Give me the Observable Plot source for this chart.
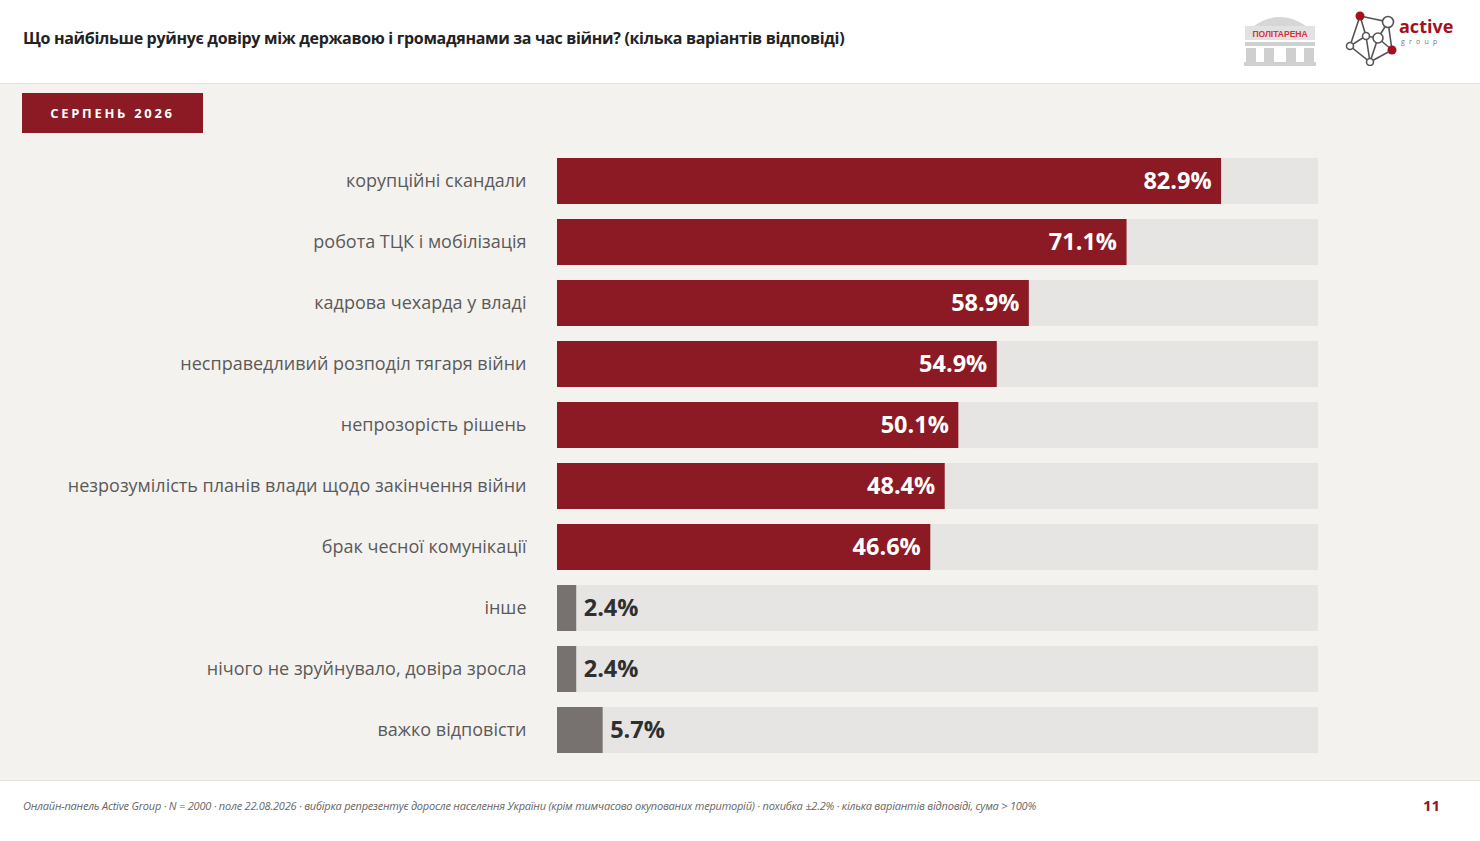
<!DOCTYPE html>
<html>
<head>
<meta charset="utf-8">
<script src="https://cdn.jsdelivr.net/npm/d3@7"></script>
<script src="https://cdn.jsdelivr.net/npm/@observablehq/plot@0.6"></script>
<style>
  html, body { margin: 0; padding: 0; }
  body { width: 1480px; height: 841px; position: relative; background: #ffffff; font-family: "Open Sans", sans-serif; overflow: hidden; }
  #header { position: absolute; left: 0; top: 0; width: 1480px; height: 82px; background: #ffffff; }
  #title { position: absolute; left: 23px; top: 27px; font-size: 16px; font-weight: 700; color: #222; letter-spacing: -0.32px; }
  #main { position: absolute; left: 0; top: 83px; width: 1480px; height: 696px; background: #f4f2ef; border-top: 1px solid #e4e2de; border-bottom: 1px solid #e4e2de; }
  #badge { position: absolute; left: 22px; top: 93px; width: 181px; height: 40px; background: #8b1a24; color: #fff; font-size: 13px; font-weight: 700; letter-spacing: 2.7px; display: flex; align-items: center; justify-content: center; }
  #chart { position: absolute; left: 0; top: 148px; line-height: 0; }
  #footer { position: absolute; left: 23px; top: 798px; font-size: 11px; font-style: italic; color: #666; letter-spacing: -0.22px; }
  #page { position: absolute; left: 1423px; top: 795px; font-size: 15px; font-weight: 700; color: #8b1a24; }
  #logo1 { position: absolute; left: 1240px; top: 10px; }
  #logo2 { position: absolute; left: 1344px; top: 10px; }
</style>
</head>
<body>
<div id="header">
  <div id="title">Що найбільше руйнує довіру між державою і громадянами за час війни? (кілька варіантів відповіді)</div>
  <svg id="logo1" width="80" height="58" viewBox="0 0 80 58">
    <path d="M14 16 Q40 -2 66 16 Z" fill="#d6d6d6"/>
    <rect x="5" y="16" width="70" height="14" fill="#e2e2e2"/>
    <text x="40" y="27" text-anchor="middle" font-size="8.5" font-weight="700" fill="#d9303a" font-family="Liberation Sans">ПОЛІТАРЕНА</text>
    <rect x="5" y="32" width="70" height="4" fill="#d0d0d0"/>
    <rect x="6" y="38" width="10" height="16" fill="#cfcfcf"/>
    <rect x="24" y="38" width="10" height="16" fill="#cfcfcf"/>
    <rect x="46" y="38" width="10" height="16" fill="#cfcfcf"/>
    <rect x="64" y="38" width="10" height="16" fill="#cfcfcf"/>
    <rect x="4" y="52" width="72" height="4" fill="#d0d0d0"/>
  </svg>
  <svg id="logo2" width="112" height="56" viewBox="0 0 112 56">
    <g stroke="#555" stroke-width="1.6" fill="none">
      <path d="M16 6 L44 12 L48 40 L26 52 L6 36 L16 6 Z"/>
      <path d="M16 6 L22 26 L6 36 M22 26 L34 28 L44 12 M34 28 L48 40 M22 26 L26 52 M34 28 L26 52"/>
    </g>
    <circle cx="16" cy="6" r="4.5" fill="#a3111c"/>
    <circle cx="44" cy="12" r="5.5" fill="#fff" stroke="#555" stroke-width="1.6"/>
    <circle cx="48" cy="40" r="4.5" fill="#a3111c"/>
    <circle cx="26" cy="52" r="3.5" fill="#fff" stroke="#555" stroke-width="1.6"/>
    <circle cx="6" cy="36" r="3.5" fill="#fff" stroke="#555" stroke-width="1.6"/>
    <circle cx="22" cy="26" r="3.5" fill="#fff" stroke="#555" stroke-width="1.6"/>
    <circle cx="34" cy="28" r="5" fill="#fff" stroke="#555" stroke-width="1.6"/>
    <text x="55" y="23" font-size="18" font-weight="700" fill="#a3111c" font-family="Open Sans">active</text>
    <text x="57" y="34" font-size="7" fill="#777" letter-spacing="4.2" font-family="Open Sans">group</text>
  </svg>
</div>
<div id="main"></div>
<div id="badge">СЕРПЕНЬ 2026</div>
<div id="chart"></div>
<div id="footer">Онлайн-панель Active Group · N = 2000 · поле 22.08.2026 · вибірка репрезентує доросле населення України (крім тимчасово окупованих територій) · похибка ±2.2% · кілька варіантів відповіді, сума &gt; 100%</div>
<div id="page">11</div>

<script>
// ---- data ----
const categories = [
  "корупційні скандали",
  "робота ТЦК і мобілізація",
  "кадрова чехарда у владі",
  "несправедливий розподіл тягаря війни",
  "непрозорість рішень",
  "незрозумілість планів влади щодо закінчення війни",
  "брак чесної комунікації",
  "інше",
  "нічого не зруйнувало, довіра зросла",
  "важко відповісти"
];
const values = [82.9, 71.1, 58.9, 54.9, 50.1, 48.4, 46.6, 2.4, 2.4, 5.7];
const kinds = ["reason", "reason", "reason", "reason", "reason", "reason", "reason", "other", "other", "other"];
const scaleMax = 95;

const data = categories.map((c, i) => ({category: c, value: values[i], kind: kinds[i]}));
const reasons = data.filter(d => d.kind === "reason");
const others = data.filter(d => d.kind === "other");

const chart = Plot.plot({
  width: 1480,
  height: 614,
  marginLeft: 557,
  marginRight: 162,
  marginTop: 0,
  marginBottom: 0,
  style: {background: "transparent", fontFamily: "Open Sans, sans-serif"},
  x: {domain: [0, scaleMax], axis: null},
  y: {domain: categories, paddingInner: 0.25, paddingOuter: 0.125, label: null},
  color: {domain: ["reason", "other"], range: ["#8b1a24", "#77726f"]},
  marks: [
    Plot.axisY({tickSize: 0, tickPadding: 31, fontSize: 18, fill: "#5a5a5a", label: null}),
    Plot.barX(data, {x1: 0, x2: scaleMax, y: "category", fill: "#e6e5e3"}),
    Plot.barX(data, {x: "value", y: "category", fill: "kind"}),
    Plot.text(reasons, {x: "value", y: "category", text: d => d.value.toFixed(1) + "%", textAnchor: "end", dx: -10, fill: "#ffffff", fontSize: 23.5, fontWeight: 700}),
    Plot.text(others, {x: "value", y: "category", text: d => d.value.toFixed(1) + "%", textAnchor: "start", dx: 7, fill: "#2f2f2f", fontSize: 23.5, fontWeight: 700})
  ]
});
document.getElementById("chart").appendChild(chart);
</script>
</body>
</html>
